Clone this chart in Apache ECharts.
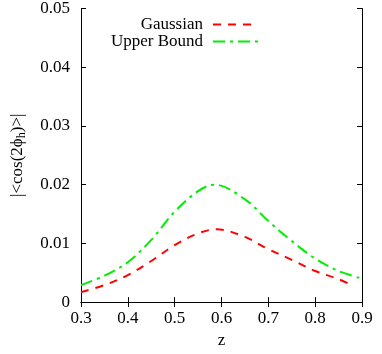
<!DOCTYPE html>
<html><head><meta charset="utf-8">
<script src="https://cdn.jsdelivr.net/npm/echarts@6/dist/echarts.min.js"></script>
<style>html,body{margin:0;padding:0;background:#fff}#c{width:382px;height:354px}</style>
</head><body><div id="c"></div>
<script>
var zValues = [0.30, 0.35, 0.40, 0.45, 0.50, 0.55, 0.59, 0.65, 0.70, 0.75, 0.80, 0.85, 0.88];
var gaussian = [0.0017, 0.0029, 0.0046, 0.0070, 0.0097, 0.0117, 0.0124, 0.0111, 0.0090, 0.0072, 0.0053, 0.0039, 0.0028];
var zValuesUB = [0.30, 0.35, 0.40, 0.45, 0.50, 0.55, 0.585, 0.65, 0.70, 0.75, 0.80, 0.85, 0.90];
var upperBound = [0.0029, 0.0045, 0.0068, 0.0106, 0.0154, 0.0189, 0.0200, 0.0175, 0.0138, 0.0104, 0.0074, 0.0053, 0.0040];
var xTicks = {min: 0.3, max: 0.9, interval: 0.1};
var yTicks = {min: 0, max: 0.05, interval: 0.01};

function pairs(xs, ys){ return xs.map(function(x,i){return [x, ys[i]];}); }
var font = '"Liberation Serif", "DejaVu Serif", serif';
var fs = 17;
var axisLine = {show: true, lineStyle: {color: '#000', width: 1}};
var ticks = {show: true, inside: true, length: 5, lineStyle: {color: '#000'}};
var legendBase = {right: 118, itemWidth: 45, itemHeight: 10, align: 'right', itemGap: 6,
  itemStyle: {opacity: 0},
  textStyle: {fontFamily: font, fontSize: fs, color: '#000', padding: [0, 5, 0, 0]}};
var chart = echarts.init(document.getElementById('c'));
chart.setOption({
  animation: false,
  textStyle: {fontFamily: font},
  grid: {left: 81, right: 20, top: 7, bottom: 50},
  legend: [
    Object.assign({}, legendBase, {data: ['Gaussian'], top: 11}),
    Object.assign({}, legendBase, {data: ['Upper Bound'], top: 28})
  ],
  xAxis: [
    {type: 'value', min: xTicks.min, max: xTicks.max, interval: xTicks.interval,
     name: 'z', nameLocation: 'middle', nameGap: 28,
     nameTextStyle: {fontFamily: font, fontSize: fs, color: '#000'},
     axisLine: axisLine, axisTick: ticks, splitLine: {show: false},
     axisLabel: {fontFamily: font, fontSize: fs, color: '#000', margin: 8}},
    {type: 'value', position: 'top', min: xTicks.min, max: xTicks.max, interval: xTicks.interval,
     axisLine: axisLine, axisTick: ticks, splitLine: {show: false}, axisLabel: {show: false}}
  ],
  yAxis: [
    {type: 'value', min: yTicks.min, max: yTicks.max, interval: yTicks.interval,
     name: '|<cos(2ϕ{s|h})>|', nameLocation: 'middle', nameGap: 53,
     nameTextStyle: {fontFamily: font, fontSize: fs, color: '#000',
       rich: {s: {fontFamily: font, fontSize: 12, color: '#000', verticalAlign: 'bottom', padding: [9,0,0,0]}}},
     axisLine: axisLine, axisTick: ticks, splitLine: {show: false},
     axisLabel: {fontFamily: font, fontSize: fs, color: '#000', margin: 11}},
    {type: 'value', position: 'right', min: yTicks.min, max: yTicks.max, interval: yTicks.interval,
     axisLine: axisLine, axisTick: ticks, splitLine: {show: false}, axisLabel: {show: false}}
  ],
  series: [
    {name: 'Gaussian', type: 'line', smooth: 0.35, showSymbol: false, symbol: 'none',
     data: pairs(zValues, gaussian), color: '#ff0000',
     lineStyle: {color: '#ff0000', width: 2, type: [8, 7]}},
    {name: 'Upper Bound', type: 'line', smooth: 0.35, showSymbol: false, symbol: 'none',
     data: pairs(zValuesUB, upperBound), color: '#00ee00',
     lineStyle: {color: '#00ee00', width: 2, type: [12, 5, 3, 5]}}
  ]
});
</script></body></html>
